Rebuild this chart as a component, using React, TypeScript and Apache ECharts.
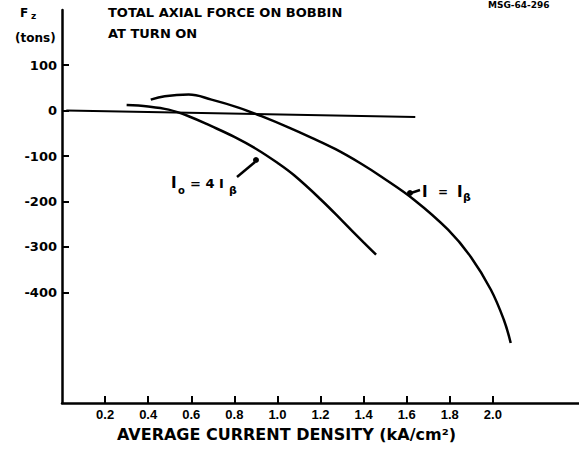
import React, { useEffect, useRef } from "react";
import * as echarts from "echarts";

// Current density (kA/cm²) and axial force (tons) for Io = 4 Iβ
const lowerCurveX = [0.3, 0.4, 0.495, 0.588, 0.694, 0.8, 0.9, 1.0, 1.079, 1.2, 1.3, 1.4, 1.458];
const lowerCurveY = [12, 9, 2, -12.5, -34.5, -58, -84, -115, -143, -195, -242, -290, -317];

// Current density (kA/cm²) and axial force (tons) for I = Iβ
const upperCurveX = [0.412, 0.477, 0.588, 0.694, 0.819, 0.926, 1.051, 1.157, 1.27, 1.389, 1.481, 1.634, 1.792, 1.898, 1.991, 2.051, 2.083];
const upperCurveY = [24, 31.5, 35, 24, 6.5, -12.5, -37, -59.5, -85, -117, -145, -196, -262, -322, -394, -460, -511];

// Reference zero line
const zeroLineX = [0.02, 1.64];
const zeroLineY = [0, -14];

const xTickValues = [0.2, 0.4, 0.6, 0.8, 1.0, 1.2, 1.4, 1.6, 1.8, 2.0];
const yTickValues = [100, 0, -100, -200, -300, -400];

const FONT = "Liberation Sans, Arial, sans-serif";
const WIDE = "DejaVu Sans, Verdana, sans-serif";

const pairs = (xs: number[], ys: number[]) => xs.map((x, i) => [x, ys[i]]);

export default function App() {
  const ref = useRef<HTMLDivElement>(null);

  useEffect(() => {
    document.body.style.margin = "0";
    if (!ref.current) return;
    const chart = echarts.init(ref.current, null, { renderer: "svg" });

    const txt = (x: number, y: number, text: string, size: number, family = WIDE) => ({
      type: "text",
      x,
      y,
      style: {
        text,
        fill: "#000",
        font: `bold ${size}px ${family}`,
        textVerticalAlign: "middle",
      },
    });

    chart.setOption({
      animation: false,
      backgroundColor: "#fff",
      grid: { left: 62, right: 0, top: 10, bottom: 49 },
      xAxis: {
        type: "value",
        min: 0,
        max: 2.4,
        axisLine: { onZero: false, lineStyle: { color: "#000", width: 2.5 } },
        axisTick: {
          show: true,
          inside: true,
          length: 7,
          lineStyle: { color: "#000", width: 2 },
          customValues: xTickValues,
        },
        axisLabel: {
          customValues: xTickValues,
          formatter: (v: number) => v.toFixed(1),
          color: "#000",
          fontFamily: FONT,
          fontWeight: "bold",
          fontSize: 13,
          margin: 5,
        },
        splitLine: { show: false },
        name: "AVERAGE CURRENT DENSITY (kA/cm²)",
        nameLocation: "middle",
        nameGap: 23,
        nameTextStyle: {
          color: "#000",
          fontFamily: WIDE,
          fontWeight: "bold",
          fontSize: 16,
          padding: [0, 0, 0, -68],
        },
      },
      yAxis: {
        type: "value",
        min: -643,
        max: 221,
        axisLine: { onZero: false, lineStyle: { color: "#000", width: 2.5 } },
        axisTick: {
          show: true,
          inside: true,
          length: 7,
          lineStyle: { color: "#000", width: 2 },
          customValues: yTickValues,
        },
        axisLabel: {
          customValues: yTickValues,
          color: "#000",
          fontFamily: WIDE,
          fontWeight: "bold",
          fontSize: 13,
          margin: 5,
        },
        splitLine: { show: false },
      },
      series: [
        {
          type: "line",
          data: pairs(zeroLineX, zeroLineY),
          showSymbol: false,
          lineStyle: { color: "#000", width: 2 },
        },
        {
          type: "line",
          data: pairs(lowerCurveX, lowerCurveY),
          smooth: 0.4,
          showSymbol: false,
          lineStyle: { color: "#000", width: 2.5 },
        },
        {
          type: "line",
          data: pairs(upperCurveX, upperCurveY),
          smooth: 0.4,
          showSymbol: false,
          lineStyle: { color: "#000", width: 2.5 },
        },
      ],
      graphic: [
        // axis title
        txt(20, 13, "F", 12),
        txt(31, 16, "z", 9),
        txt(15, 38, "(tons)", 12),
        // chart title
        txt(108, 12, "TOTAL AXIAL FORCE ON BOBBIN", 13),
        txt(108, 33, "AT TURN ON", 13),
        // drawing number
        txt(488, 5, "MSG-64-296", 9),
        // label for Io = 4 Iβ
        txt(171, 183, "I", 15),
        txt(178, 190, "o", 10),
        txt(190, 183, "= 4 I", 13),
        txt(229, 190, "β", 11),
        {
          type: "line",
          shape: { x1: 237, y1: 177, x2: 255, y2: 162 },
          style: { stroke: "#000", lineWidth: 2.5 },
        },
        { type: "circle", shape: { cx: 256, cy: 160, r: 3 }, style: { fill: "#000" } },
        // label for I = Iβ
        {
          type: "line",
          shape: { x1: 420, y1: 190, x2: 408, y2: 194 },
          style: { stroke: "#000", lineWidth: 2.5 },
        },
        { type: "circle", shape: { cx: 410, cy: 193, r: 3 }, style: { fill: "#000" } },
        txt(422, 192, "I", 15),
        txt(438, 192, "=", 12),
        txt(457, 192, "I", 15),
        txt(463, 197, "β", 11),
      ],
    });

    return () => chart.dispose();
  }, []);

  return <div ref={ref} style={{ width: 579, height: 452 }} />;
}
